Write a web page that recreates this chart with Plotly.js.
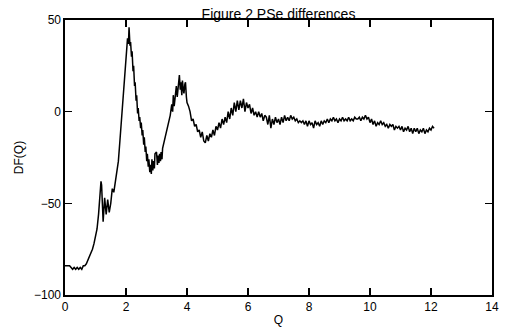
<!DOCTYPE html>
<html>
<head>
<meta charset="utf-8">
<script src="https://cdn.plot.ly/plotly-3.0.1.min.js"></script>
<style>html,body{margin:0;padding:0;background:#fff}#chart{width:516px;height:332px}</style>
</head>
<body>
<div id="chart"></div>
<script>
var chartTitle = "Figure 2 PSe differences";
var xLabel = "Q";
var yLabel = "DF(Q)";
var xTicks = [0, 2, 4, 6, 8, 10, 12, 14];
var yTicks = [-100, -50, 0, 50];

var q = [0.00,0.05,0.10,0.15,0.20,0.25,0.30,0.35,0.40,0.45,0.50,0.55,0.60,0.65,0.70,0.75,0.80,0.85,0.90,0.95,
1.00,1.05,1.10,1.15,1.18,1.20,1.25,1.30,1.35,1.40,1.45,1.50,1.55,1.60,1.65,1.70,1.75,1.80,1.85,1.90,1.95,
2.00,2.05,2.08,2.10,2.13,2.15,2.18,2.20,2.23,2.25,2.28,2.30,2.33,2.35,2.38,2.40,2.43,2.45,2.48,2.50,2.53,2.55,2.58,2.60,2.63,2.65,2.68,2.70,2.73,2.75,2.78,2.80,2.83,2.85,2.88,2.90,2.93,2.95,
3.00,3.03,3.05,3.08,3.10,3.13,3.15,3.18,3.20,3.25,3.30,3.35,3.40,3.45,3.50,3.53,3.55,3.58,3.60,3.63,3.65,3.68,3.70,3.73,3.75,3.78,3.80,3.83,3.85,3.88,3.90,3.93,3.95,3.98,
4.00,4.05,4.10,4.15,4.20,4.25,4.30,4.35,4.40,4.45,4.50,4.55,4.60,4.65,4.70,4.75,4.80,4.85,4.90,4.95,
5.00,5.05,5.10,5.15,5.20,5.25,5.30,5.35,5.40,5.45,5.50,5.55,5.60,5.65,5.70,5.75,5.80,5.85,5.90,5.95,
6.00,6.05,6.10,6.15,6.20,6.25,6.30,6.35,6.40,6.45,6.50,6.55,6.60,6.65,6.70,6.75,6.80,6.85,6.90,6.95,
7.00,7.05,7.10,7.15,7.20,7.25,7.30,7.35,7.40,7.45,7.50,7.55,7.60,7.65,7.70,7.75,7.80,7.85,7.90,7.95,
8.00,8.05,8.10,8.15,8.20,8.25,8.30,8.35,8.40,8.45,8.50,8.55,8.60,8.65,8.70,8.75,8.80,8.85,8.90,8.95,
9.00,9.05,9.10,9.15,9.20,9.25,9.30,9.35,9.40,9.45,9.50,9.55,9.60,9.65,9.70,9.75,9.80,9.85,9.90,9.95,
10.00,10.05,10.10,10.15,10.20,10.25,10.30,10.35,10.40,10.45,10.50,10.55,10.60,10.65,10.70,10.75,10.80,10.85,10.90,10.95,
11.00,11.05,11.10,11.15,11.20,11.25,11.30,11.35,11.40,11.45,11.50,11.55,11.60,11.65,11.70,11.75,11.80,11.85,11.90,11.95,
12.00,12.05,12.10];

var df = [-84,-84,-84,-84,-85,-86,-85,-86,-85,-86,-85,-86,-84,-84,-83,-81,-80,-78,-75,-72,
-68,-64,-56,-46,-38,-40,-60,-47,-56,-48,-55,-50,-42,-44,-38,-33,-27,-16,-5,8,18,
32,40,37,46,36,38,30,33,22,25,14,16,6,9,-1,2,-5,-3,-9,-6,-13,-10,-18,-14,-22,-19,-27,-23,-30,-26,-33,-29,-34,-26,-32,-27,-31,-23,
-22,-29,-24,-28,-23,-27,-22,-26,-20,-16,-12,-10,-5,-2,4,0,9,3,6,11,14,8,11,17,20,12,16,9,17,12,10,15,16,8,
5,3,0,-5,-4,-8,-7,-11,-10,-14,-11,-16,-17,-13,-16,-12,-14,-10,-13,-8,
-10,-6,-9,-4,-7,-3,-6,0,-4,2,-2,5,0,6,1,6,2,7,0,5,
2,4,-1,2,-2,0,-3,0,-3,-1,-5,-2,-3,-7,-2,-9,-4,-7,-3,-6,
-4,-7,-3,-6,-2,-5,-3,-5,-2,-4,-3,-5,-4,-6,-5,-6,-5,-7,-5,-8,
-5,-7,-6,-9,-5,-7,-6,-8,-5,-7,-5,-6,-4,-6,-4,-5,-3,-5,-4,-6,
-4,-5,-3,-5,-4,-5,-3,-5,-4,-5,-3,-4,-4,-3,-5,-3,-4,-2,-4,-3,
-6,-4,-7,-5,-8,-6,-7,-5,-7,-6,-8,-7,-9,-7,-8,-7,-10,-8,-9,-8,
-10,-8,-11,-9,-10,-8,-11,-9,-12,-9,-11,-9,-12,-10,-11,-9,-12,-10,-11,-9,
-10,-8,-9];

var fontFam = "Liberation Sans, Arial, sans-serif";

var trace = {
  x: q, y: df, type: "scatter", mode: "lines",
  line: {color: "#000", width: 1.5},
  hoverinfo: "skip"
};

var axisCommon = {
  showgrid: false, zeroline: false,
  showline: true, linecolor: "#000", linewidth: 1.6,
  mirror: "ticks", ticks: "inside", ticklen: 7, tickwidth: 1.5, tickcolor: "#000",
  tickfont: {family: fontFam, size: 12, color: "#000"}
};

var layout = {
  width: 516, height: 332,
  margin: {l: 65, r: 24, t: 20, b: 37},
  paper_bgcolor: "#fff", plot_bgcolor: "#fff",
  showlegend: false,
  title: {text: chartTitle, font: {family: fontFam, size: 14, color: "#000"},
          x: 0.5, xref: "paper", xanchor: "center", y: 1, yref: "paper", yanchor: "bottom", pad: {b: 1}},
  xaxis: Object.assign({}, axisCommon, {
    range: [0, 14], tickvals: xTicks, ticktext: xTicks.map(String),
    title: {text: xLabel, font: {family: fontFam, size: 12, color: "#000"}, standoff: 2}
  }),
  yaxis: Object.assign({}, axisCommon, {
    range: [-100, 50], tickvals: yTicks, ticktext: yTicks.map(function(v){return v < 0 ? "\u2212" + Math.abs(v) : String(v);}),
    title: {text: yLabel, font: {family: fontFam, size: 12, color: "#000"}, standoff: 8}
  })
};

Plotly.newPlot("chart", [trace], layout, {staticPlot: true, displayModeBar: false});
</script>
</body>
</html>
